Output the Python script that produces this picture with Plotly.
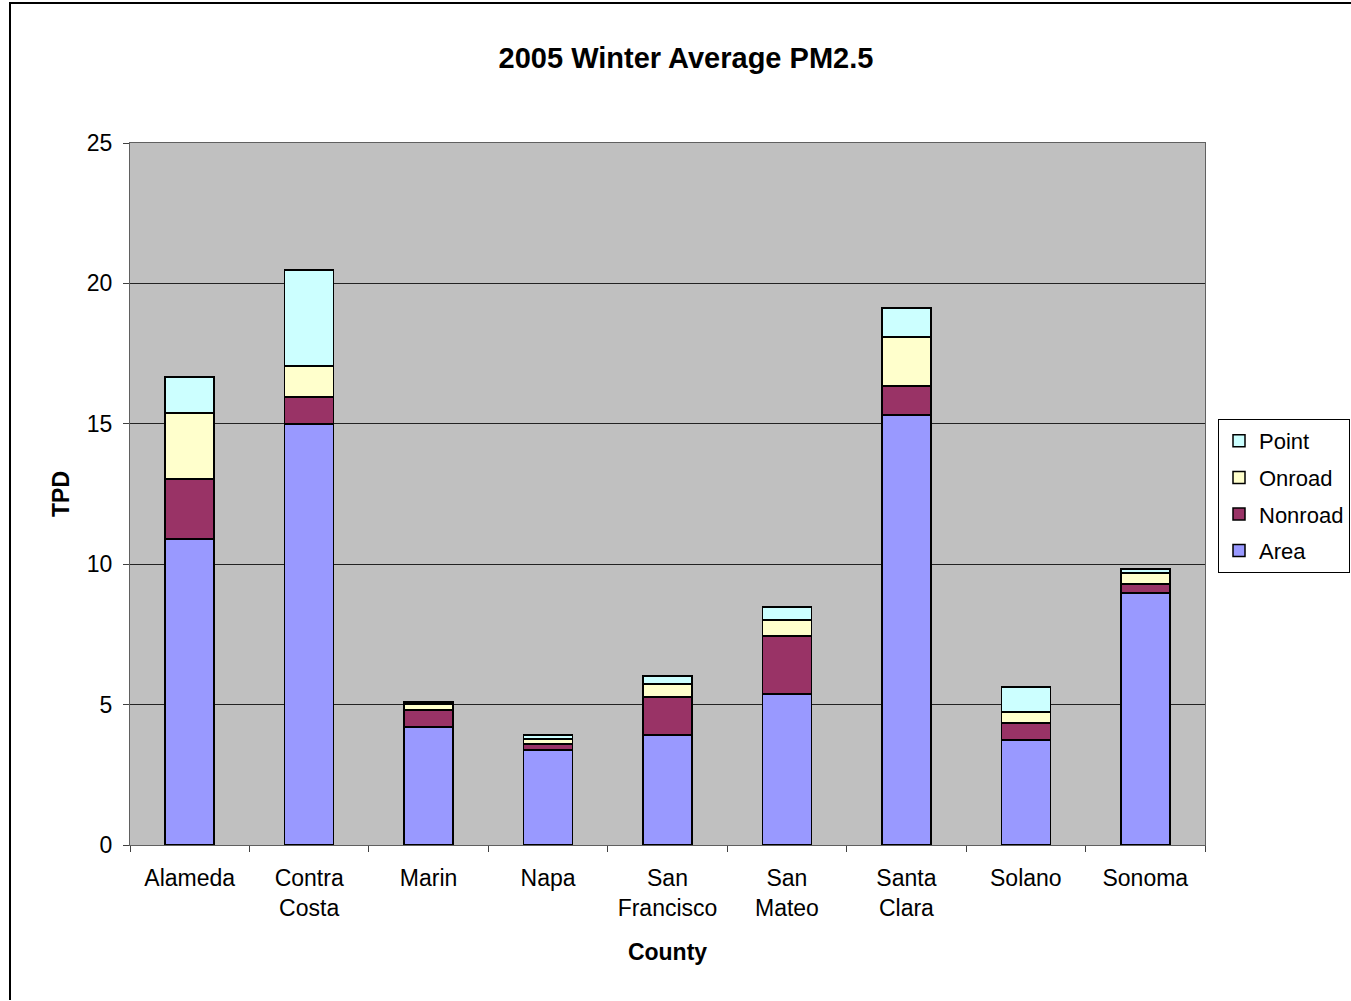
import plotly.graph_objects as go

counties = ["Alameda", "Contra<br>Costa", "Marin", "Napa", "San<br>Francisco",
            "San<br>Mateo", "Santa<br>Clara", "Solano", "Sonoma"]
area = [10.90, 14.99, 4.20, 3.38, 3.92, 5.38, 15.31, 3.74, 8.97]
nonroad = [2.13, 0.96, 0.61, 0.22, 1.35, 2.06, 1.04, 0.60, 0.32]
onroad = [2.35, 1.11, 0.21, 0.17, 0.46, 0.57, 1.74, 0.40, 0.40]
point = [1.29, 3.42, 0.07, 0.15, 0.29, 0.47, 1.03, 0.89, 0.14]

series = [("Area", area, "#9999FF", 4), ("Nonroad", nonroad, "#993366", 3),
          ("Onroad", onroad, "#FFFFCC", 2), ("Point", point, "#CCFFFF", 1)]

W, H = 1351, 1000
L, R, T, B = 130, 146, 143, 155
pw, ph = W - L - R, H - T - B


def px_x(p):
    return (p - L) / pw


def px_y(p):
    return (H - B - p) / ph


fig = go.Figure()
for name, vals, col, rank in series:
    fig.add_trace(go.Bar(x=counties, y=vals, name=name, legendgroup=name,
                         legendrank=rank,
                         marker=dict(color=col, line=dict(color="black", width=1.5))))

font = "Liberation Sans, Arial, sans-serif"
fig.update_layout(
    barmode="stack", bargap=0.59,
    width=W, height=H,
    margin=dict(l=L, r=R, t=T, b=B, autoexpand=False),
    paper_bgcolor="white", plot_bgcolor="#C0C0C0",
    font=dict(family=font, size=23, color="black"),
    title=dict(text="<b>2005 Winter Average PM2.5</b>", x=px_x(686), xref="paper",
               xanchor="center", y=1 - 58 / H, yanchor="middle",
               font=dict(size=29)),
    legend=dict(traceorder="grouped", x=px_x(1218), y=px_y(419),
                xanchor="left", yanchor="top", bordercolor="black", borderwidth=1,
                bgcolor="white", font=dict(size=22), itemwidth=30,
                tracegroupgap=5),
    xaxis=dict(title=dict(text="<b>County</b>", font=dict(size=23), standoff=24),
               tickfont=dict(size=23), ticks="outside", tickson="boundaries",
               ticklen=6, tickcolor="#404040", showline=True, linecolor="#606060",
               mirror=True, showgrid=False, ticklabelstandoff=12),
    yaxis=dict(title=dict(text="<b>TPD</b>", font=dict(size=23), standoff=10),
               range=[0, 25], dtick=5, tickfont=dict(size=23), ticks="outside",
               ticklen=6, tickcolor="#404040", showline=True, linecolor="#606060",
               mirror=True, gridcolor="#222222", gridwidth=1, zeroline=False,
               ticklabelstandoff=6),
    shapes=[dict(type="rect", xref="paper", yref="paper",
                 x0=px_x(10), x1=px_x(1380), y0=px_y(1030), y1=px_y(3),
                 line=dict(color="black", width=2), layer="below")],
)
fig.write_html("out.html", config={"displayModeBar": False},
               post_script="document.body.style.margin='0';")
